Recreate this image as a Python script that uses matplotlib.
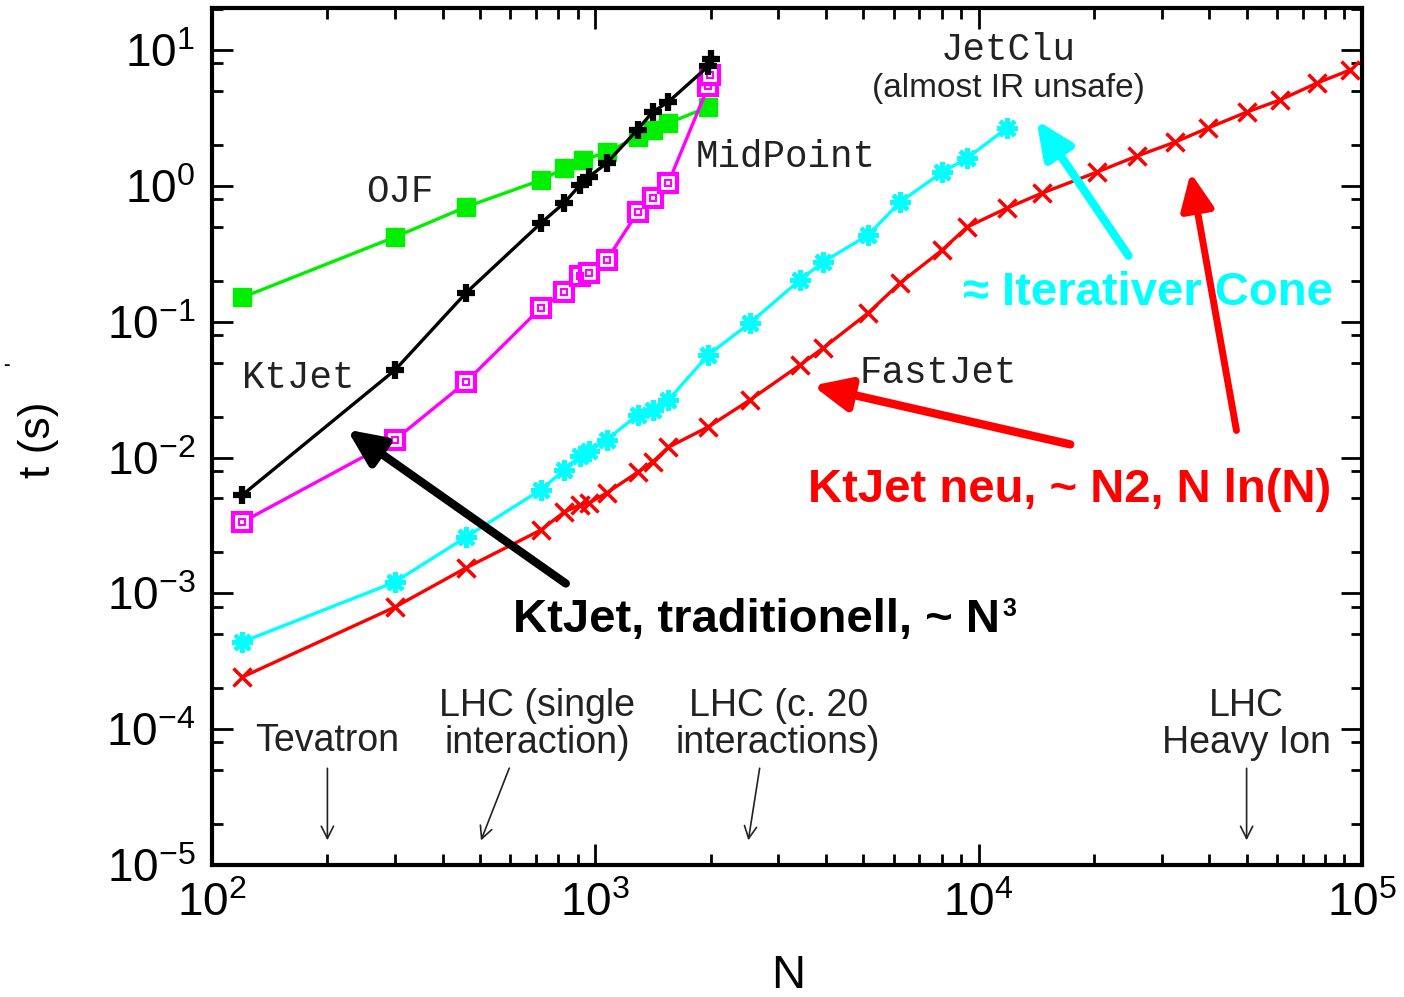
import numpy as np
import matplotlib
matplotlib.use('Agg')
import matplotlib.pyplot as plt
from matplotlib.ticker import FixedLocator, LogLocator, NullFormatter

plt.rcParams['font.family'] = ['Liberation Sans', 'DejaVu Sans']
plt.rcParams['mathtext.default'] = 'regular'
plt.rcParams['axes.unicode_minus'] = False

# --- data (N = number of particles, t in seconds) ---
n_ojf = [120, 300, 460, 720, 830, 930, 1070, 1290, 1410, 1550, 1970]
t_ojf = [0.151, 0.42, 0.70, 1.10, 1.35, 1.55, 1.77, 2.29, 2.58, 2.90, 3.81]

n_ktjet = [120, 300, 460, 720, 830, 910, 960, 1070, 1290, 1410, 1550, 1970, 2000]
t_ktjet = [0.0053, 0.044, 0.163, 0.53, 0.75, 1.01, 1.16, 1.47, 2.6, 3.5, 4.15, 7.6, 8.6]

n_mid = [120, 300, 460, 720, 830, 910, 960, 1070, 1290, 1410, 1550, 1970, 1990]
t_mid = [0.00335, 0.0135, 0.036, 0.126, 0.165, 0.217, 0.23, 0.284, 0.64, 0.82, 1.05, 5.4, 6.5]

n_jetclu = [120, 300, 460, 720, 830, 910, 960, 1070, 1290, 1410, 1550, 1970,
            2530, 3420, 3930, 5150, 6240, 8030, 9330, 11860]
t_jetclu = [4.39e-4, 1.21e-3, 2.60e-3, 5.77e-3, 8.1e-3, 0.0102, 0.0112, 0.0135,
            0.0206, 0.0224, 0.0265, 0.0569, 0.0977, 0.203, 0.275, 0.435, 0.76,
            1.26, 1.60, 2.67]

n_fastjet = [120, 300, 460, 720, 830, 910, 960, 1070, 1290, 1410, 1550, 1970,
             2530, 3420, 3930, 5150, 6240, 8030, 9330, 11860, 14640, 20370,
             25900, 32540, 39670, 50140, 61130, 76360, 93100]
t_fastjet = [2.42e-4, 7.92e-4, 1.54e-3, 2.92e-3, 3.97e-3, 4.47e-3, 4.6e-3,
             5.48e-3, 7.8e-3, 9.27e-3, 0.0119, 0.0168, 0.0265, 0.048, 0.064,
             0.116, 0.193, 0.337, 0.498, 0.687, 0.885, 1.265, 1.66, 2.10, 2.67,
             3.50, 4.29, 5.72, 7.13]

# typical multiplicities marked at the bottom
exp_names = ['Tevatron', 'LHC (single\ninteraction)', 'LHC (c. 20\ninteractions)', 'LHC\nHeavy Ion']
exp_n = [200, 500, 2500, 50000]
exp_label_n = [200, 705, 3000, 50000]
exp_tail_n = [200, 600, 2690, 50000]

fig = plt.figure(figsize=(14.04, 9.97), dpi=100)
fig.text(0.002, 1 - 365 / 997, '-', fontsize=14, fontweight='bold', va='center')
ax = fig.add_axes([212 / 1404, 1 - 865 / 997, 1150 / 1404, 857 / 997])
ax.set_xscale('log')
ax.set_yscale('log')
ax.set_xlim(100, 1e5)
ax.set_ylim(1e-5, 20.4)

lw = 2.4
ax.plot(n_ojf, t_ojf, color='#00ee00', lw=lw, marker='s', ms=13.5, mec='#00ee00', zorder=3)
ax.plot(n_ktjet, t_ktjet, color='black', lw=lw, marker='+', ms=13, mew=4.5, zorder=4)
ax.plot(n_mid, t_mid, color='#ff00ff', lw=lw, marker='s', ms=13, mfc='white', mew=3, zorder=3)
ax.plot(n_mid, t_mid, ls='none', marker='s', ms=4, mfc='none', mec='#ff00ff', mew=1.5, zorder=3)
ax.plot(n_jetclu, t_jetclu, color='#00ffff', lw=lw, marker=(8, 2, 0), ms=15, mew=3, zorder=3)
ax.plot(n_fastjet, t_fastjet, color='#ff0000', lw=lw, marker='x', ms=13, mew=2.5, zorder=3)

# --- axes styling ---
decades_y = [1e-5, 1e-4, 1e-3, 1e-2, 1e-1, 1e0, 1e1]
ax.yaxis.set_major_locator(FixedLocator(decades_y))
ax.set_yticklabels([r'$10^{%d}$' % int(round(np.log10(v))) for v in decades_y])
ax.yaxis.set_minor_locator(LogLocator(base=10, subs=[2, 5, 8]))
ax.yaxis.set_minor_formatter(NullFormatter())
decades_x = [1e2, 1e3, 1e4, 1e5]
ax.xaxis.set_major_locator(FixedLocator(decades_x))
ax.set_xticklabels([r'$10^{%d}$' % int(round(np.log10(v))) for v in decades_x])
ax.xaxis.set_minor_locator(LogLocator(base=10, subs=np.arange(2, 10)))
ax.xaxis.set_minor_formatter(NullFormatter())
ax.tick_params(which='both', direction='in', top=True, right=True, width=2)
ax.tick_params(which='major', length=15, labelsize=33, pad=12)
ax.tick_params(which='minor', length=8)
for s in ax.spines.values():
    s.set_linewidth(3)

ax.set_xlabel('N', fontsize=34)
ax.xaxis.set_label_coords(0.501, -0.104)
ax.set_ylabel('t (s)', fontsize=32)
ax.yaxis.set_label_coords(-0.133, 0.496)

# --- gnuplot style curve labels ---
mono = dict(family='Liberation Mono', fontsize=27, color='#222222', ha='center', va='center')
ax.text(309, 0.90, 'OJF', **mono)
ax.text(168, 0.0385, 'KtJet', **mono)
ax.text(3145, 1.63, 'MidPoint', **mono)
ax.text(11930, 10.0, 'JetClu', **mono)
ax.text(7834, 0.0419, 'FastJet', **mono)
ax.text(11930, 5.25, '(almost IR unsafe)', fontsize=24, ha='center', va='center', color='#222222')

# experiments with arrows
for name, n, ln, tn in zip(exp_names, exp_n, exp_label_n, exp_tail_n):
    ax.text(ln, 1.08e-4 if '\n' in name else 8.2e-5, name, fontsize=27,
            ha='center', va='center', linespacing=1.05, color='#222222')
    ax.annotate('', xy=(n, 1.45e-5), xytext=(tn, 5.4e-5),
                arrowprops=dict(arrowstyle='->', lw=1.2, color='#222222',
                                mutation_scale=22))

# --- slide overlay annotations ---
arrow_kw = dict(arrowstyle='-|>,head_length=1.1,head_width=0.5', mutation_scale=20)
ax.annotate('', xy=(222, 0.0165), xytext=(849, 1.15e-3),
            arrowprops=dict(color='black', lw=6, **arrow_kw), zorder=6)
ax.annotate('', xy=(14030, 3.16), xytext=(24830, 0.294),
            arrowprops=dict(color='#00ffff', lw=6, **arrow_kw), zorder=6)
ax.annotate('', xy=(3631, 0.0342), xytext=(17620, 0.01236),
            arrowprops=dict(color='#ff0000', lw=6, **arrow_kw), zorder=6)

t1 = ax.text(610, 5.19e-4, 'KtJet, traditionell, ~ N', fontsize=34, fontweight='bold',
             ha='left', va='baseline', zorder=7)
ax.annotate('3', xy=(1, 1), xycoords=t1, xytext=(2, 1), textcoords='offset points',
            fontsize=18, fontweight='bold', ha='left', va='top')
ax.text(27680, 0.1626, '\u2248 Iterativer Cone', fontsize=34, fontweight='bold',
        color='#00ffff', ha='center', va='center', zorder=6)
ax.text(17320, 5.77e-3, 'KtJet neu, ~ N2, N ln(N)', fontsize=34, fontweight='bold',
        color='#ff0000', ha='center', va='center', zorder=7)
ax.annotate('', xy=(35610, 1.31), xytext=(47180, 0.0151),
            arrowprops=dict(color='#ff0000', lw=5, **arrow_kw), zorder=7)

fig.savefig('out.png', dpi=100)
